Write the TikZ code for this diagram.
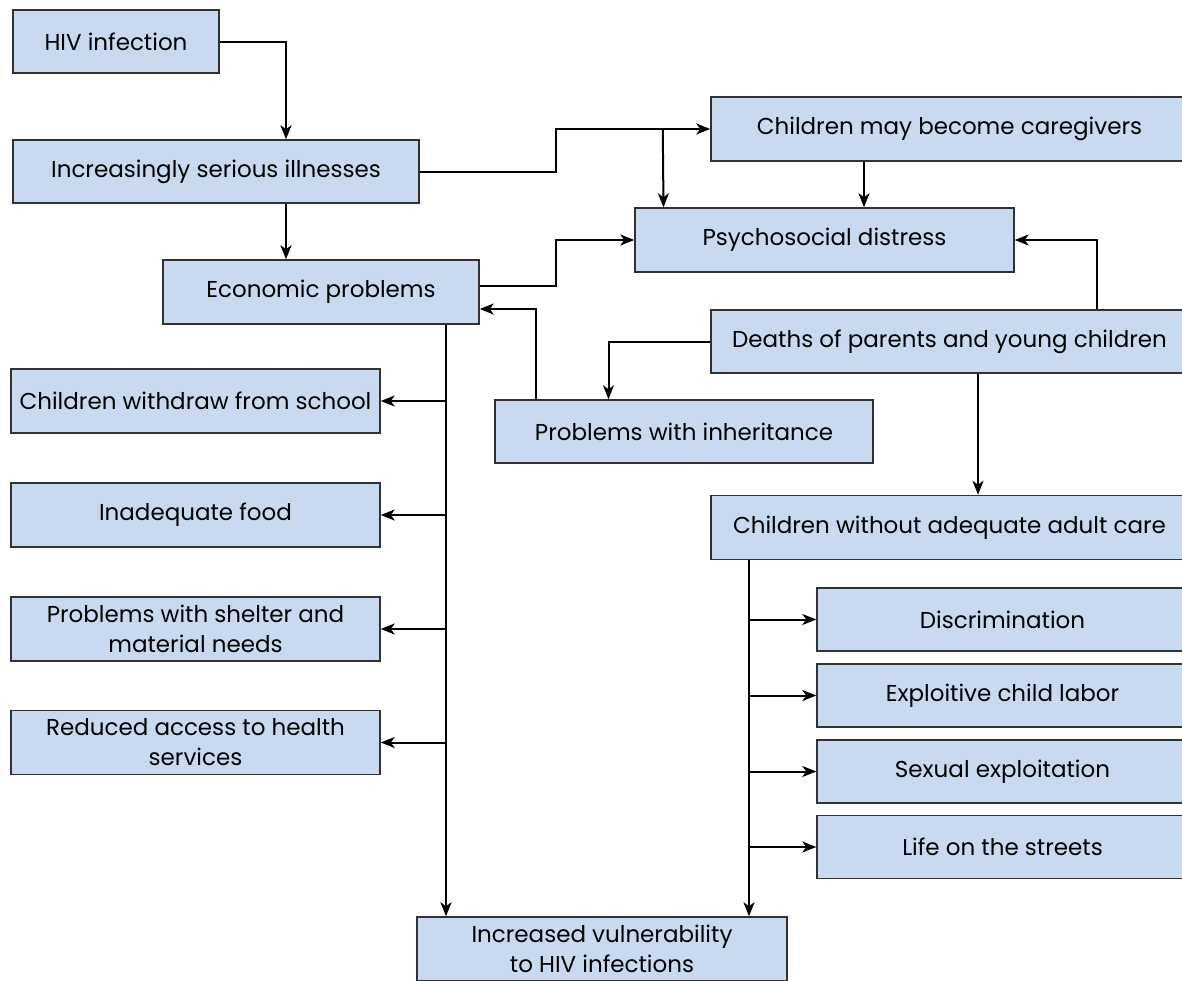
\documentclass[tikz,border=0pt]{standalone}
\usepackage{fontspec}
\setmainfont{Poppins}
\usetikzlibrary{arrows.meta,calc}
\definecolor{boxfill}{RGB}{201,218,240}
\definecolor{boxline}{RGB}{50,50,50}
\begin{document}
\begin{tikzpicture}[x=1pt,y=-1pt,
  box/.style={draw=boxline,line width=1.5pt,fill=boxfill,inner sep=0pt,
    align=center,font=\fontsize{23}{30}\selectfont,text=black},
  arr/.style={line width=2pt,-{Stealth[length=14pt,width=11pt,inset=4pt]}}]
\useasboundingbox (0,0) rectangle (1182,980);
\fill[white] (0,0) rectangle (1182,980);
\begin{scope}
\clip (0,0) rectangle (1182,980);
\node[box,minimum width=206pt,minimum height=63pt] (hiv) at (116,41.5) {HIV infection};
\node[box,minimum width=406pt,minimum height=63pt] (ill) at (216,171.5) {Increasingly serious illnesses};
\node[box,minimum width=477pt,minimum height=64pt] (care) at (949.5,129) {Children may become caregivers};
\node[box,minimum width=379pt,minimum height=64pt] (psy) at (824.5,240) {Psychosocial distress};
\node[box,minimum width=316pt,minimum height=64pt] (eco) at (321,292) {Economic problems};
\node[box,minimum width=477pt,minimum height=63pt] (death) at (949.5,341.5) {Deaths of parents and young children};
\node[box,minimum width=378pt,minimum height=63pt] (inh) at (684,431.5) {Problems with inheritance};
\node[box,minimum width=369pt,minimum height=64pt] (school) at (195.5,401) {Children withdraw from school};
\node[box,minimum width=369pt,minimum height=64pt] (food) at (195.5,515) {Inadequate food};
\node[box,minimum width=369pt,minimum height=64pt] (shelter) at (195.5,629) {Problems with shelter and\\material needs};
\node[box,minimum width=369pt,minimum height=64pt] (health) at (195.5,742.5) {Reduced access to health\\services};
\node[box,minimum width=477pt,minimum height=64pt] (nocare) at (949.5,527.5) {Children without adequate adult care};
\node[box,minimum width=371pt,minimum height=63pt] (disc) at (1002.5,619.5) {Discrimination};
\node[box,minimum width=371pt,minimum height=63pt] (expl) at (1002.5,695.5) {Exploitive child labor};
\node[box,minimum width=371pt,minimum height=63pt] (sex) at (1002.5,771.5) {Sexual exploitation};
\node[box,minimum width=371pt,minimum height=63pt] (life) at (1002.5,847) {Life on the streets};
\node[box,minimum width=370pt,minimum height=64pt] (vul) at (602,949) {Increased vulnerability\\to HIV infections};

% connectors
\draw[arr] (hiv.east) -| ([xshift=70]ill.north);
\draw[arr] (ill.east) -- ++(136,0) |- (care.west);
\draw[arr] ([xshift=-47.5]care.west) -- ([xshift=-161]psy.north);
\draw[arr] ([xshift=-85.5]care.south) -- ([xshift=39.5]psy.north);
\draw[arr] ([xshift=70]ill.south) -- ([xshift=-35]eco.north);
\draw[arr] ([yshift=6]eco.east) -- ++(76,0) |- (psy.west);
\draw[arr] ([xshift=-148]inh.north) |- ([yshift=-17]eco.east);
\draw[arr] (death.west) -| ([xshift=-75.5]inh.north);
\draw[arr] ([xshift=147]death.north) |- (psy.east);
\draw[arr] ([xshift=28.5]death.south) -- ([xshift=28.5]nocare.north);

\coordinate (t1) at ([xshift=125]eco.south);
\draw[arr] (t1) -- ([xshift=-156]vul.north);
\foreach \n in {school,food,shelter,health}
  \draw[arr] (t1 |- \n.east) -- (\n.east);

\coordinate (t2) at ([xshift=-200.5]nocare.south);
\draw[arr] (t2) -- ([xshift=147]vul.north);
\foreach \n in {disc,expl,sex,life}
  \draw[arr] (t2 |- \n.west) -- (\n.west);
\end{scope}
\end{tikzpicture}
\end{document}
